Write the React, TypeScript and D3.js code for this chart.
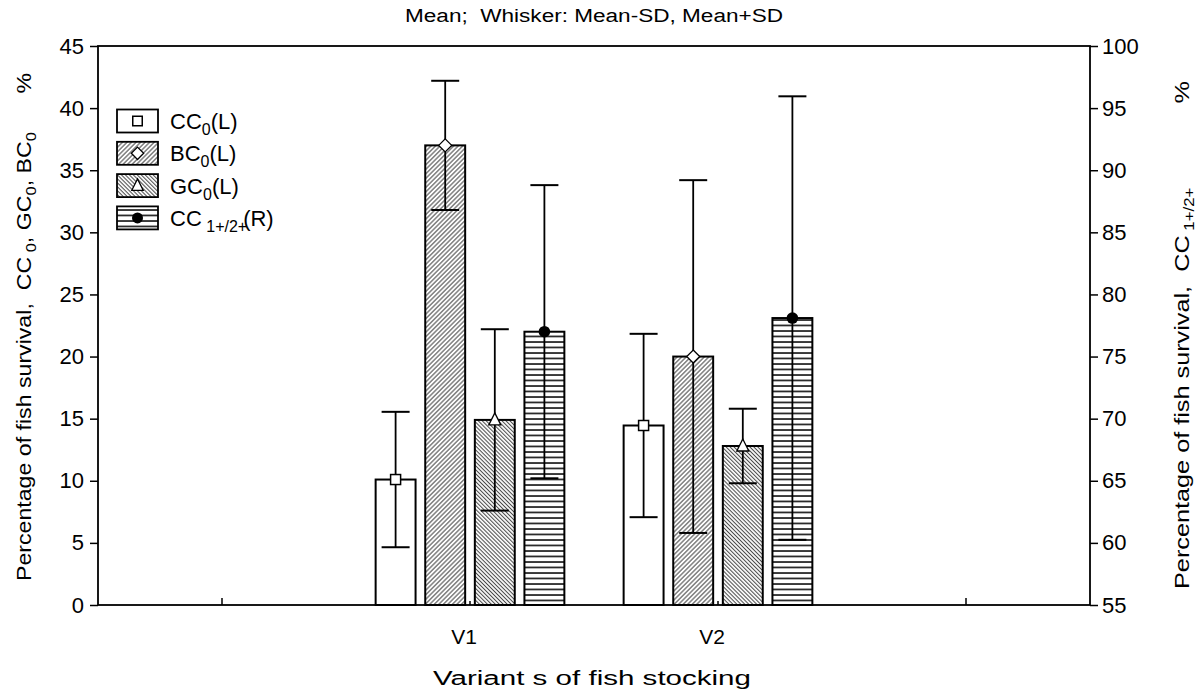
import React, { useRef, useEffect } from 'react';
import * as d3 from 'd3';

// values (mean and SD per variant)
const categories = ['V1', 'V2'];
const seriesKeys = ['CC0', 'BC0', 'GC0', 'CC1'];
const cc0Mean = [10.1, 14.45];
const cc0Sd = [5.45, 7.38];
const bc0Mean = [37.0, 20.0];
const bc0Sd = [5.2, 14.2];
const gc0Mean = [14.9, 12.8];
const gc0Sd = [7.3, 3.0];
const cc1Mean = [77.0, 78.1]; // right axis
const cc1Sd = [11.8, 17.85];
const leftTicks = [0, 5, 10, 15, 20, 25, 30, 35, 40, 45];
const rightTicks = [55, 60, 65, 70, 75, 80, 85, 90, 95, 100];
const xTicks = [-1, 0, 1, 2];

const FONT = "Arial, 'Liberation Sans', sans-serif";

const App: React.FC = () => {
  const svgRef = useRef<SVGSVGElement | null>(null);

  useEffect(() => {
    const width = 1200;
    const height = 691;
    const svg = d3.select(svgRef.current)
      .attr('width', width)
      .attr('height', height)
      .style('position', 'absolute')
      .style('left', '0px')
      .style('top', '0px')
      .style('background', '#fff')
      .style('font-family', FONT);

    const margin = { top: 46, right: 110, bottom: 86, left: 98 };
    const plotRight = width - margin.right;
    const plotBottom = height - margin.bottom;
    const midX = (margin.left + plotRight) / 2;

    const x = d3.scaleLinear().domain([-1.5, 2.5]).range([margin.left, plotRight]);
    const yL = d3.scaleLinear().domain([0, 45]).range([plotBottom, margin.top]);
    const yR = d3.scaleLinear().domain([55, 100]).range([plotBottom, margin.top]);

    // hatch patterns
    const defs = svg.append('defs');
    const diag = (id: string, angle: number, gap: number) => {
      const p = defs.append('pattern')
        .attr('id', id)
        .attr('patternUnits', 'userSpaceOnUse')
        .attr('width', gap)
        .attr('height', gap)
        .attr('patternTransform', `rotate(${angle})`);
      p.append('rect').attr('width', gap).attr('height', gap).attr('fill', '#fff');
      p.append('line')
        .attr('x1', gap / 2).attr('x2', gap / 2)
        .attr('y1', 0).attr('y2', gap)
        .attr('stroke', '#4a4a4a')
        .attr('stroke-width', 1.05);
    };
    diag('hatchBC', 45, 3.2);
    diag('hatchGC', -45, 2.8);
    const hp = defs.append('pattern')
      .attr('id', 'hatchCC1')
      .attr('patternUnits', 'userSpaceOnUse')
      .attr('width', 8)
      .attr('height', 5.5);
    hp.append('rect').attr('width', 8).attr('height', 5.5).attr('fill', '#fff');
    hp.append('line')
      .attr('x1', 0).attr('x2', 8)
      .attr('y1', 1).attr('y2', 1)
      .attr('stroke', '#111')
      .attr('stroke-width', 1.6);

    const fills: Record<string, string> = {
      CC0: '#fff',
      BC0: 'url(#hatchBC)',
      GC0: 'url(#hatchGC)',
      CC1: 'url(#hatchCC1)',
    };
    const means: Record<string, number[]> = { CC0: cc0Mean, BC0: bc0Mean, GC0: gc0Mean, CC1: cc1Mean };
    const sds: Record<string, number[]> = { CC0: cc0Sd, BC0: bc0Sd, GC0: gc0Sd, CC1: cc1Sd };

    // title
    svg.append('text')
      .attr('x', midX)
      .attr('y', 22)
      .attr('text-anchor', 'middle')
      .attr('textLength', 378)
      .attr('lengthAdjust', 'spacingAndGlyphs')
      .style('font-size', '18px')
      .style('white-space', 'pre')
      .text('Mean;  Whisker: Mean-SD, Mean+SD');

    // bars
    const step = 0.2;
    const barW = x(0.161) - x(0);
    const capW = 28;
    const g = svg.append('g');

    categories.forEach((cat, ci) => {
      seriesKeys.forEach((key, si) => {
        const y = key === 'CC1' ? yR : yL;
        const base = key === 'CC1' ? 55 : 0;
        const cx = x(ci + (si - 1.5) * step);
        const m = means[key][ci];
        g.append('rect')
          .attr('x', cx - barW / 2)
          .attr('y', y(m))
          .attr('width', barW)
          .attr('height', y(base) - y(m))
          .attr('fill', fills[key])
          .attr('stroke', '#000')
          .attr('stroke-width', 2);
      });
    });

    // whiskers + markers
    const drawMarker = (sel: d3.Selection<SVGGElement, unknown, null, undefined>, key: string, cx: number, cy: number, scale = 1) => {
      if (key === 'CC0') {
        const s = 10 * scale;
        sel.append('rect').attr('x', cx - s / 2).attr('y', cy - s / 2).attr('width', s).attr('height', s)
          .attr('fill', '#fff').attr('stroke', '#000').attr('stroke-width', 1.5);
      } else if (key === 'BC0') {
        const s = 6.5 * scale;
        sel.append('path').attr('d', `M${cx},${cy - s}L${cx + s},${cy}L${cx},${cy + s}L${cx - s},${cy}Z`)
          .attr('fill', '#fff').attr('stroke', '#000').attr('stroke-width', 1.3);
      } else if (key === 'GC0') {
        const s = 6 * scale;
        sel.append('path').attr('d', `M${cx},${cy - s - 1}L${cx + s},${cy + s - 1}L${cx - s},${cy + s - 1}Z`)
          .attr('fill', '#fff').attr('stroke', '#000').attr('stroke-width', 1.3);
      } else {
        sel.append('circle').attr('cx', cx).attr('cy', cy).attr('r', 5.8 * scale).attr('fill', '#000');
      }
    };

    const w = svg.append('g');
    categories.forEach((cat, ci) => {
      seriesKeys.forEach((key, si) => {
        const y = key === 'CC1' ? yR : yL;
        const cx = x(ci + (si - 1.5) * step);
        const m = means[key][ci];
        const s = sds[key][ci];
        w.append('line').attr('x1', cx).attr('x2', cx).attr('y1', y(m - s)).attr('y2', y(m + s))
          .attr('stroke', '#000').attr('stroke-width', 1.8);
        [m - s, m + s].forEach(v => {
          w.append('line').attr('x1', cx - capW / 2).attr('x2', cx + capW / 2)
            .attr('y1', y(v)).attr('y2', y(v))
            .attr('stroke', '#000').attr('stroke-width', 2);
        });
        drawMarker(w, key, cx, y(m));
      });
    });

    // frame
    svg.append('rect')
      .attr('x', margin.left)
      .attr('y', margin.top)
      .attr('width', plotRight - margin.left)
      .attr('height', plotBottom - margin.top)
      .attr('fill', 'none')
      .attr('stroke', '#000')
      .attr('stroke-width', 1.8);

    // left axis
    const left = svg.append('g')
      .attr('transform', `translate(${margin.left},0)`)
      .call(d3.axisLeft(yL).tickValues(leftTicks).tickSize(8).tickPadding(6).tickFormat(d3.format('d')));
    left.select('.domain').remove();
    left.selectAll('line').attr('stroke-width', 1.5);
    left.selectAll('text').style('font-size', '22px').style('font-family', FONT).attr('fill', '#000');

    // right axis
    const right = svg.append('g')
      .attr('transform', `translate(${plotRight},0)`)
      .call(d3.axisRight(yR).tickValues(rightTicks).tickSize(8).tickPadding(4).tickFormat(d3.format('d')));
    right.select('.domain').remove();
    right.selectAll('line').attr('stroke-width', 1.5);
    right.selectAll('text').style('font-size', '22px').style('font-family', FONT).attr('fill', '#000');

    // bottom axis (ticks pointing inward)
    const bottom = svg.append('g').attr('transform', `translate(0,${plotBottom})`);
    xTicks.forEach(t => {
      const len = t === 0 || t === 1 ? 4 : 7;
      bottom.append('line').attr('x1', x(t)).attr('x2', x(t)).attr('y1', 0).attr('y2', -len)
        .attr('stroke', '#000').attr('stroke-width', 1.5);
    });
    categories.forEach((cat, ci) => {
      bottom.append('text')
        .attr('x', x(ci) - 6)
        .attr('y', 39)
        .attr('text-anchor', 'middle')
        .style('font-size', '21px')
        .text(cat);
    });

    // x title
    svg.append('text')
      .attr('x', midX - 2)
      .attr('y', 685)
      .attr('text-anchor', 'middle')
      .attr('textLength', 318)
      .attr('lengthAdjust', 'spacingAndGlyphs')
      .style('font-size', '20px')
      .style('white-space', 'pre')
      .text('Variant s of fish stocking');

    // left y title
    const lt = svg.append('text')
      .attr('transform', `translate(31,${327}) rotate(-90)`)
      .attr('text-anchor', 'middle')
      .attr('textLength', 508)
      .attr('lengthAdjust', 'spacingAndGlyphs')
      .style('font-size', '21px')
      .style('white-space', 'pre');
    lt.append('tspan').text('Percentage of fish survival,  CC');
    lt.append('tspan').attr('dy', 5).style('font-size', '15px').text(' 0');
    lt.append('tspan').attr('dy', -5).text(', GC');
    lt.append('tspan').attr('dy', 5).style('font-size', '15px').text('0');
    lt.append('tspan').attr('dy', -5).text(', BC');
    lt.append('tspan').attr('dy', 5).style('font-size', '15px').text('0');
    lt.append('tspan').attr('dy', -5).text('      %');

    // right y title
    const rt = svg.append('text')
      .attr('transform', `translate(1189,${335}) rotate(-90)`)
      .attr('text-anchor', 'middle')
      .attr('textLength', 508)
      .attr('lengthAdjust', 'spacingAndGlyphs')
      .style('font-size', '21px')
      .style('white-space', 'pre');
    rt.append('tspan').text('Percentage of fish survival,  CC');
    rt.append('tspan').attr('dy', 5).style('font-size', '14px').text(' 1+/2+');
    rt.append('tspan').attr('dy', -5).text('            %');

    // legend
    const legendRows = [
      { key: 'CC0', main: 'CC', sub: '0', tail: '(L)', dx: 0 },
      { key: 'BC0', main: 'BC', sub: '0', tail: '(L)', dx: 0 },
      { key: 'GC0', main: 'GC', sub: '0', tail: '(L)', dx: 0 },
      { key: 'CC1', main: 'CC', sub: ' 1+/2+', tail: '(R)', dx: -4 },
    ];
    const legend = svg.append('g');
    legendRows.forEach((r, i) => {
      const cy = 121 + i * 32.3;
      legend.append('rect')
        .attr('x', 117).attr('y', cy - 11.5).attr('width', 41).attr('height', 23)
        .attr('fill', fills[r.key]).attr('stroke', '#000').attr('stroke-width', 1.8);
      drawMarker(legend, r.key, 137.5, cy, 0.95);
      const t = legend.append('text')
        .attr('x', 170).attr('y', cy + 8)
        .style('font-size', '22px')
        .style('white-space', 'pre');
      t.append('tspan').text(r.main);
      t.append('tspan').attr('dy', 6).style('font-size', '16px').text(r.sub);
      t.append('tspan').attr('dy', -6).attr('dx', r.dx).text(r.tail);
    });

    return () => {
      svg.selectAll('*').remove();
    };
  }, []);

  return <svg ref={svgRef}></svg>;
};

export default App;
